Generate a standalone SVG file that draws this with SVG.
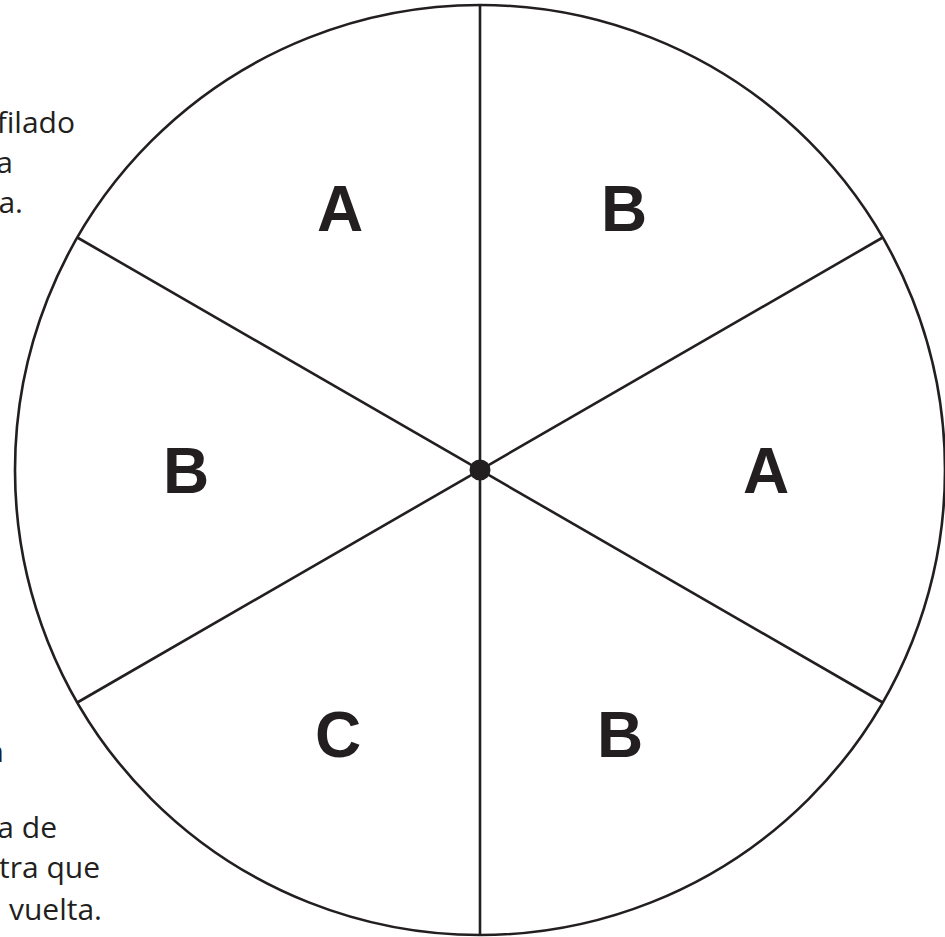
<svg xmlns="http://www.w3.org/2000/svg" width="945" height="937" viewBox="0 0 945 937">
<style>
.t{font-family:"Open Sans","Noto Sans",sans-serif;font-size:30px;fill:#231f20;text-anchor:end}
.l{font-family:"Liberation Sans","Noto Sans",sans-serif;font-size:64px;font-weight:bold;fill:#231f20;text-anchor:middle}
.s{stroke:#231f20;stroke-width:2.6;fill:none}
</style>
<rect width="945" height="937" fill="#fff"/>
<g id="text-behind">
<text class="t" x="75" y="133">filado</text>
<text class="t" x="13" y="173">a</text>
<text class="t" x="23" y="213">a.</text>
<text class="t" x="4" y="762">n</text>
<text class="t" x="57" y="838">a de</text>
<text class="t" x="100" y="878">tra que</text>
<text class="t" x="102" y="920">vuelta.</text>
</g>
<g id="wheel">
<circle cx="480" cy="470" r="465" fill="#fff" stroke="#231f20" stroke-width="2.6"/>
</g>
<g id="spokes">
<line class="s" x1="480" y1="5" x2="480" y2="935"/>
<line class="s" x1="77.3" y1="237.5" x2="882.7" y2="702.5"/>
<line class="s" x1="77.3" y1="702.5" x2="882.7" y2="237.5"/>
</g>
<g id="hub"><circle cx="480" cy="470" r="10.5" fill="#231f20"/></g>
<g id="sector-1"><text class="l" x="340" y="231">A</text></g>
<g id="sector-2"><text class="l" x="624" y="231">B</text></g>
<g id="sector-3"><text class="l" x="766" y="493">A</text></g>
<g id="sector-4"><text class="l" x="620" y="757">B</text></g>
<g id="sector-5"><text class="l" x="338" y="757">C</text></g>
<g id="sector-6"><text class="l" x="186" y="493">B</text></g>
</svg>
